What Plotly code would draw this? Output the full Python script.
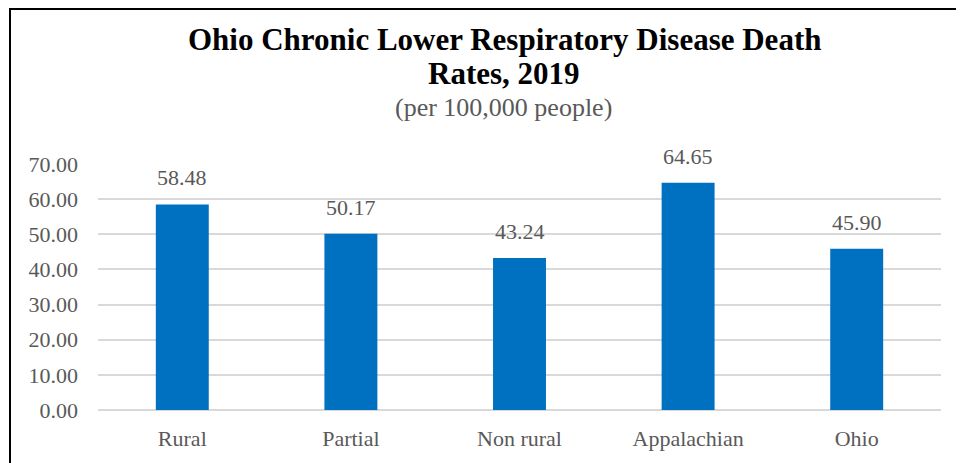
import plotly.graph_objects as go

categories = ["Rural", "Partial", "Non rural", "Appalachian", "Ohio"]
values = [58.48, 50.17, 43.24, 64.65, 45.90]
tick_vals = [0, 10, 20, 30, 40, 50, 60, 70]
tick_text = ["0.00", "10.00", "20.00", "30.00", "40.00", "50.00", "60.00", "70.00"]

# page offset (body margin) compensation
OX, OY = 8, 8
W, H = 964, 463
L = 98 - OX
T = 164 - OY
B = H - (410 - OY)
R = W - (941 - OX)
pw, ph = W - L - R, H - T - B

def px(x):
    return (x - OX - L) / pw

def py(y):
    return (H - B - (y - OY)) / ph

FONT = "Liberation Serif"
GRAY = "#595959"

fig = go.Figure(go.Bar(
    x=categories, y=values,
    marker=dict(color="#0070C0", line=dict(width=0)),
    cliponaxis=False,
    hoverinfo="x+y",
))

annotations = [
    dict(text="<b>Ohio Chronic Lower Respiratory Disease Death</b>", xref="paper", yref="paper",
         x=px(504), y=py(40), showarrow=False, xanchor="center", yanchor="middle",
         font=dict(family=FONT, size=31, color="black")),
    dict(text="<b>Rates, 2019</b>", xref="paper", yref="paper",
         x=px(504), y=py(74), showarrow=False, xanchor="center", yanchor="middle",
         font=dict(family=FONT, size=31, color="black")),
    dict(text="(per 100,000 people)", xref="paper", yref="paper",
         x=px(503), y=py(107), showarrow=False, xanchor="center", yanchor="middle",
         font=dict(family=FONT, size=26, color=GRAY)),
]
for c, v in zip(categories, values):
    annotations.append(dict(
        x=c, y=v, xref="x", yref="y", text=f"{v:.2f}", showarrow=False,
        xanchor="center", yanchor="bottom", yshift=12,
        font=dict(family=FONT, size=22, color=GRAY),
    ))

fig.update_layout(
    width=W, height=H,
    margin=dict(l=L, r=R, t=T, b=B, autoexpand=False),
    paper_bgcolor="white", plot_bgcolor="white",
    bargap=0.686,
    showlegend=False,
    font=dict(family=FONT, color=GRAY),
    annotations=annotations,
    shapes=[
        dict(type="rect", xref="paper", yref="paper",
             x0=px(10), x1=px(1000), y0=py(500), y1=py(9),
             line=dict(color="black", width=2), fillcolor="rgba(0,0,0,0)", layer="above"),
    ],
)

fig.update_yaxes(
    range=[0, 70], tickvals=tick_vals, ticktext=tick_text,
    showgrid=True, gridcolor="#d9d9d9", gridwidth=1.5,
    zeroline=True, zerolinecolor="#d9d9d9", zerolinewidth=1.5,
    showline=False, ticks="",
    tickfont=dict(family=FONT, size=22, color=GRAY),
    ticklabelstandoff=19,
)
fig.update_xaxes(
    showgrid=False, showline=False, ticks="",
    tickfont=dict(family=FONT, size=22, color=GRAY),
    ticklabelstandoff=13,
)

fig.write_html("out.html")
